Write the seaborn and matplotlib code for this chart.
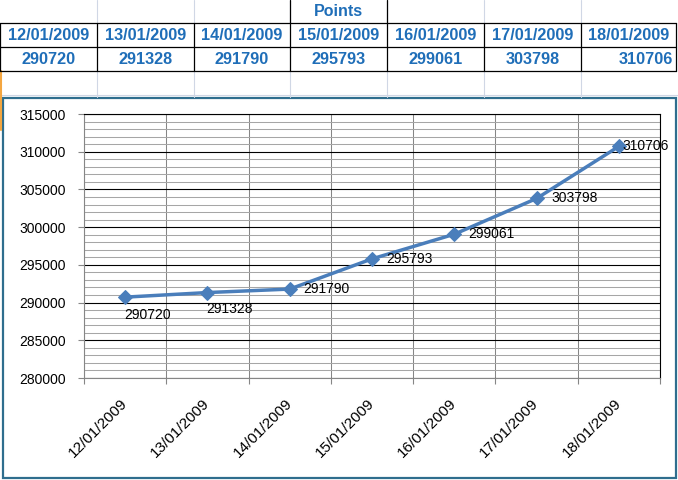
import matplotlib
matplotlib.use("Agg")
import matplotlib.pyplot as plt
import matplotlib.transforms as mtransforms
from matplotlib.ticker import MultipleLocator, FixedLocator, NullFormatter
from matplotlib.patches import Rectangle
import seaborn as sns
import pandas as pd

# ---- data ----
dates = ["12/01/2009", "13/01/2009", "14/01/2009", "15/01/2009",
         "16/01/2009", "17/01/2009", "18/01/2009"]
points = [290720, 291328, 291790, 295793, 299061, 303798, 310706]
table_title = "Points"

# label offsets in pixels (dx, dy) relative to each point
label_offsets = [(-1, -18), (-1, -16), (14, 0), (14, 0), (14, 0), (15, 0), (4, 0)]

sns.set_theme(style="white")
plt.rcParams['font.family'] = ['Liberation Sans', 'DejaVu Sans']

W, H = 678, 480
fig = plt.figure(figsize=(W / 100, H / 100), dpi=100)
fig.patch.set_facecolor("white")

# ---- overlay in pixel coordinates (spreadsheet + chart frame) ----
bg = fig.add_axes([0, 0, 1, 1], zorder=0)
bg.set_xlim(0, W)
bg.set_ylim(H, 0)
bg.axis("off")

col_edges = [0, 97, 194, 290, 387, 484, 581, 676]
row_edges = [0, 23, 47, 71, 95]
grid_c = "#D0D7E5"
blue = "#1F6EB8"

# light spreadsheet grid
for x in col_edges[1:-1]:
    bg.plot([x, x], [0, 23], color=grid_c, lw=0.8)
    bg.plot([x, x], [71, 97], color=grid_c, lw=0.8)
bg.plot([0, W], [95, 95], color=grid_c, lw=0.8)
bg.plot([1, 1], [71, 130], color="#F4A640", lw=1.5)

# black borders of the table
for y in row_edges[1:4]:
    bg.plot([0, 676], [y, y], color="black", lw=0.9)
for x in col_edges:
    bg.plot([x, x], [23, 71], color="black", lw=0.9)
bg.plot([290, 290], [0, 23], color="black", lw=0.9)
bg.plot([387, 387], [0, 23], color="black", lw=0.9)

bg.text(338.5, 12, table_title, ha="center", va="center", color=blue,
        fontsize=11.5, fontweight="bold")
for i, (d, v) in enumerate(zip(dates, points)):
    cx = (col_edges[i] + col_edges[i + 1]) / 2
    bg.text(cx, 36, d, ha="center", va="center", color=blue,
            fontsize=11.7, fontweight="bold")
    if i == len(dates) - 1:
        bg.text(col_edges[i + 1] - 3, 60, str(v), ha="right", va="center",
                color=blue, fontsize=11.7, fontweight="bold")
    else:
        bg.text(cx, 60, str(v), ha="center", va="center", color=blue,
                fontsize=11.7, fontweight="bold")

# chart area frame
bg.add_patch(Rectangle((3, 97.5), 672.5, 380.5, facecolor="white",
                       edgecolor="#2F6E8E", lw=1.6))

# ---- chart ----
L, R, T, B = 84, 660, 114, 378
ax = fig.add_axes([L / W, 1 - B / H, (R - L) / W, (B - T) / H], zorder=1)
ax.set_facecolor("white")

df = pd.DataFrame({"idx": range(len(dates)), "date": dates, "points": points})
sns.lineplot(data=df, x="idx", y="points", ax=ax, color="#4A7EBB", lw=2.5,
             marker="D", markersize=7.5, markeredgecolor="#4A7EBB", zorder=5)

ax.set_xlim(-0.5, len(dates) - 0.5)
ax.set_ylim(280000, 315000)
ax.yaxis.set_major_locator(MultipleLocator(5000))
ax.yaxis.set_minor_locator(MultipleLocator(1000))
ax.set_xticks(range(len(dates)))
ax.set_xticklabels(dates, rotation=45, ha="right", rotation_mode="anchor",
                   fontsize=11)
ax.xaxis.set_minor_locator(FixedLocator([i - 0.5 for i in range(len(dates) + 1)]))
ax.xaxis.set_minor_formatter(NullFormatter())
ax.set_xlabel("")
ax.set_ylabel("")

ax.yaxis.grid(True, which="minor", color="#A6A6A6", lw=0.75, zorder=0)
ax.yaxis.grid(True, which="major", color="black", lw=0.8, zorder=1)
ax.xaxis.grid(True, which="minor", color="#868686", lw=0.75, zorder=1)
ax.xaxis.grid(False, which="major")
ax.set_axisbelow(True)

ax.tick_params(axis="y", which="major", length=4, width=0.8, color="#868686",
               direction="out", pad=9, labelsize=10, left=True)
ax.tick_params(axis="y", which="minor", length=0)
ax.tick_params(axis="x", which="major", length=0, pad=13)
ax.tick_params(axis="x", which="minor", length=4, width=0.8, color="#868686",
               direction="out", bottom=True)
for lab in ax.get_yticklabels():
    lab.set_color("black")
offset = mtransforms.ScaledTranslation(-5 / 100, 0, fig.dpi_scale_trans)
for lab in ax.get_xticklabels():
    lab.set_color("black")
    lab.set_transform(lab.get_transform() + offset)

ax.spines["left"].set_color("#868686")
ax.spines["bottom"].set_color("#868686")
ax.spines["top"].set_color("black")
ax.spines["right"].set_color("black")
for s in ax.spines.values():
    s.set_linewidth(0.8)
    s.set_visible(True)

for i, (v, (dx, dy)) in enumerate(zip(points, label_offsets)):
    ax.annotate(str(v), (i, v), xytext=(dx, dy), textcoords="offset pixels",
                ha="left", va="center", fontsize=10, color="black", zorder=6)

fig.savefig("out.png", dpi=100)
